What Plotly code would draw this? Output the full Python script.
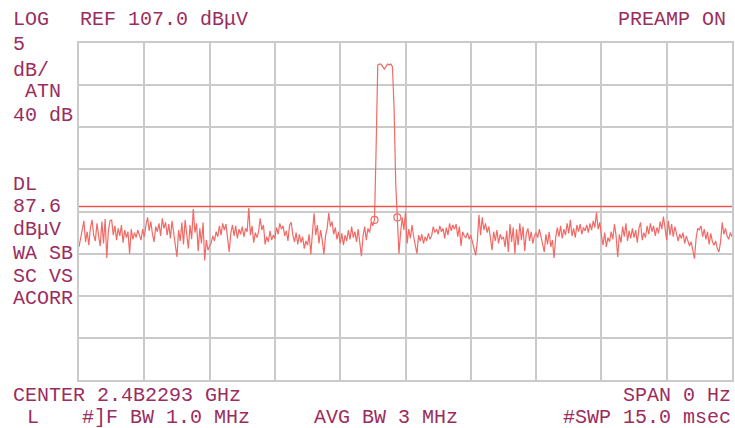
import numpy as np
import plotly.graph_objects as go

# ---------------- data ----------------
SWEEP_MS = 15.0
REF_LEVEL = 107.0
DB_PER_DIV = 5.0
DISPLAY_LINE = 87.6

noise_before = [
    82.8, 83.9, 85.2, 85.9, 83.4, 84.6, 83.0, 85.1, 86.0, 84.2,
    83.5, 85.6, 84.1, 82.9, 85.8, 83.2, 86.1, 81.5, 84.7, 85.9,
    86.0, 84.2, 85.3, 83.6, 85.0, 84.1, 85.4, 83.3, 84.8, 83.9,
    84.6, 82.0, 84.9, 83.7, 84.5, 83.9, 84.8, 84.2, 83.6, 84.9,
    84.0, 85.4, 86.3, 84.7, 85.8, 84.3, 83.4, 85.2, 84.6, 85.6,
    84.1, 86.2, 85.0, 85.7, 84.2, 85.5, 83.8, 85.9, 84.4, 83.2,
    81.6, 84.8, 83.5, 85.7, 83.1, 86.0, 84.0, 82.6, 85.4, 83.7,
    87.3, 84.5, 85.6, 82.3, 85.0, 83.2, 85.7, 81.2, 83.6, 82.4,
    82.9, 83.3, 84.1, 83.5, 84.6, 84.0, 85.3, 84.2, 85.6, 84.8,
    85.5, 83.7, 82.2, 84.4, 85.4, 84.1, 85.3, 83.8, 84.9, 84.3,
    85.2, 84.0, 85.0, 84.6, 87.4, 84.2, 85.3, 83.3, 84.5, 83.9,
    84.6, 86.2, 84.8, 85.4, 83.1, 84.0, 83.4, 84.7, 83.6, 84.2,
    83.8, 85.1, 84.3, 85.6, 84.9, 85.3, 84.1, 84.7, 83.5, 85.4,
    85.7, 84.2, 83.4, 84.5, 83.1, 84.3, 83.3, 84.0, 82.6, 83.5,
    83.0, 84.3, 81.9, 84.5, 86.8, 84.2, 85.4, 83.2, 84.8, 83.6,
    81.9, 84.1, 85.0, 86.8, 85.2, 85.8, 84.3, 85.1, 83.7, 84.6,
    83.2, 84.4, 83.0, 84.2, 83.5, 84.8, 83.7, 85.2, 83.9, 84.6,
    83.4, 84.9, 83.0, 81.7, 84.1, 85.2, 83.6, 85.0, 84.5, 85.7, 85.3,
]

pulse = [
    86.0, 94.5, 104.4, 104.5, 104.5, 104.2, 103.9, 104.2, 104.5, 104.4,
    104.5, 104.2, 99.3, 90.4, 86.3,
]

noise_after = [
    82.0, 84.5, 86.3, 84.8, 87.0, 83.2,
    84.9, 83.8, 85.4, 84.0, 83.1, 82.0, 84.2, 83.5,
    84.3, 83.2, 84.0, 83.5, 84.4, 83.7, 84.1, 85.2, 84.5, 84.9,
    84.3, 85.3, 84.6, 85.0, 83.8, 85.1, 84.2, 85.6, 84.7, 85.4,
    84.9, 85.5, 84.0, 85.2, 82.9, 84.6, 84.1, 83.9, 84.5, 83.7,
    84.2, 83.3, 82.5, 81.8, 83.5, 86.6, 84.2, 86.3, 84.8, 85.6,
    84.5, 85.2, 83.9, 82.4, 84.6, 83.5, 84.8, 83.2, 84.3, 83.7,
    84.0, 82.8, 84.7, 82.2, 85.5, 83.4, 85.1, 82.0, 84.9, 83.0,
    85.6, 83.6, 85.2, 82.3, 84.4, 85.0, 83.5, 84.6, 83.2, 84.1,
    84.5, 83.9, 84.9, 84.0, 83.4, 82.2, 84.3, 83.1, 84.6, 82.8,
    83.6, 81.5, 83.9, 85.1, 84.0, 85.3, 83.8, 84.9, 84.2, 85.6,
    84.4, 86.0, 84.1, 85.0, 83.9, 85.4, 84.6, 85.5, 84.3, 85.1,
    84.7, 85.4, 84.5, 85.6, 84.8, 85.9, 85.1, 86.9, 84.9, 85.7,
    84.2, 83.0, 84.5, 82.8, 83.9, 83.4, 84.6, 83.7, 85.5, 84.1,
    81.6, 84.3, 83.3, 85.2, 84.0, 85.6, 83.5, 84.7, 83.8, 85.0,
    83.9, 84.8, 83.3, 85.0, 85.7, 83.6, 84.5, 83.9, 85.3, 84.3,
    85.6, 84.6, 85.3, 84.1, 85.1, 84.4, 85.8, 84.9, 86.4, 85.0,
    83.6, 85.9, 84.2, 85.5, 84.0, 85.2, 84.4, 83.5, 84.3, 83.8,
    84.5, 83.2, 84.1, 83.6, 82.9, 83.4, 82.5, 81.4, 83.8, 85.0,
    84.8, 85.3, 84.0, 84.9, 83.7, 84.6, 83.1, 84.4, 83.4, 83.0,
    83.5, 82.6, 82.2, 83.4, 85.7, 84.3, 85.0, 84.1, 83.7, 84.5, 84.0,
]

level_dbuv = noise_before + pulse + noise_after
time_ms = np.linspace(0, SWEEP_MS, len(level_dbuv))
marker_idx = [len(noise_before), len(noise_before) + len(pulse) - 1]

left_labels = ["5", "dB/", "ATN", "40 dB", "DL", "87.6", "dBμV", "WA SB", "SC VS", "ACORR"]
top_labels = ["LOG", "REF 107.0 dBμV", "PREAMP ON"]
bottom_labels = ["CENTER 2.4B2293 GHz", "SPAN 0 Hz", "L", "#]F BW 1.0 MHz", "AVG BW 3 MHz", "#SWP 15.0 msec"]

# ---------------- figure ----------------
W, H = 735, 428
L, R, T, B = 79, 1, 43, 48
PW, PH = W - L - R, H - T - B

TEXT_COLOR = "#9b2d5e"
TRACE_COLOR = "#f26a66"
DL_COLOR = "#e8574f"
GRID_COLOR = "#cacaca"
FONT = "Liberation Mono"

fig = go.Figure()
fig.add_trace(go.Scatter(
    x=time_ms, y=level_dbuv, mode="lines",
    line=dict(color=TRACE_COLOR, width=1.2), hoverinfo="skip", showlegend=False,
))
fig.add_trace(go.Scatter(
    x=[time_ms[i] for i in marker_idx], y=[level_dbuv[i] for i in marker_idx],
    mode="markers", marker=dict(symbol="circle-open", size=7, color=TRACE_COLOR, line=dict(width=1.2)),
    hoverinfo="skip", showlegend=False,
))
fig.add_shape(type="line", xref="paper", x0=0, x1=1, yref="y", y0=DISPLAY_LINE, y1=DISPLAY_LINE,
              line=dict(color=DL_COLOR, width=1.5))


def px_to_paper(px, py):
    return (px - L) / PW, (H - B - py) / PH


def label(text, px, py, anchor="left"):
    x, y = px_to_paper(px, py)
    fig.add_annotation(text=text, x=x, y=y, xref="paper", yref="paper",
                       xanchor=anchor, yanchor="middle", showarrow=False,
                       font=dict(family=FONT, size=20, color=TEXT_COLOR),
                       borderpad=0)


# top row
label(top_labels[0], 12, 20)
label(top_labels[1], 79, 20)
label(top_labels[2], 729, 20, "right")

# left column
left_pos = [(12, 45), (12, 70), (24, 91), (12, 115), (12, 184), (12, 206),
            (12, 230), (12, 253), (12, 276), (12, 298)]
for t, (x, y) in zip(left_labels, left_pos):
    label(t, x, y)

# bottom rows
label(bottom_labels[0], 12, 395)
label(bottom_labels[1], 734, 395, "right")
label(bottom_labels[2], 26, 418)
label(bottom_labels[3], 81, 418)
label(bottom_labels[4], 314, 418)
label(bottom_labels[5], 734, 418, "right")

axis_common = dict(showticklabels=False, ticks="", zeroline=False, showgrid=True,
                   gridcolor=GRID_COLOR, gridwidth=1.5, showline=True, mirror=True,
                   linecolor=GRID_COLOR, linewidth=1.5)
fig.update_xaxes(range=[0, SWEEP_MS], dtick=SWEEP_MS / 10, tick0=0, **axis_common)
fig.update_yaxes(range=[REF_LEVEL - 8 * DB_PER_DIV, REF_LEVEL], dtick=DB_PER_DIV,
                 tick0=REF_LEVEL, **axis_common)

fig.update_layout(
    width=W, height=H, margin=dict(l=L, r=R, t=T, b=B),
    paper_bgcolor="white", plot_bgcolor="white",
)

fig.write_html(
    "out.html",
    config={"displayModeBar": False},
    post_script="document.body.style.margin='0';document.body.style.overflow='hidden';",
)
